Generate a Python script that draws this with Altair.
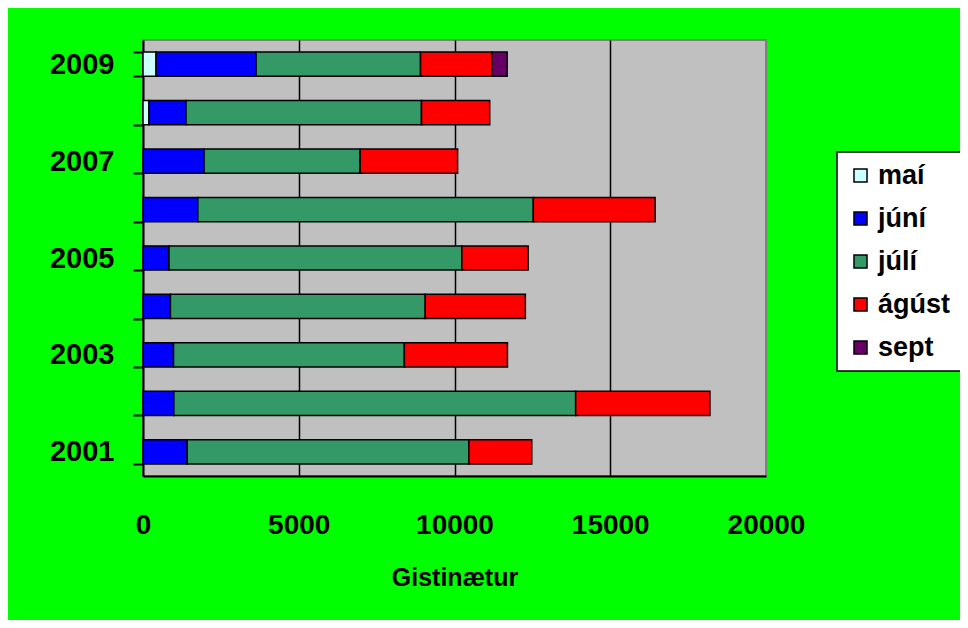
import altair as alt
import pandas as pd

years = ["2001", "2002", "2003", "2004", "2005", "2006", "2007", "2008", "2009"]
months = ["maí", "júní", "júlí", "ágúst", "sept"]
mai = [0, 0, 0, 0, 0, 0, 0, 190, 420]
juni = [1420, 990, 980, 880, 835, 1760, 1960, 1190, 3210]
juli = [9040, 12900, 7410, 8180, 9400, 10770, 5010, 7560, 5280]
agust = [2020, 4310, 3310, 3215, 2130, 3910, 3130, 2190, 2290]
sept = [0, 0, 0, 0, 0, 0, 0, 0, 490]
colors = ["#CCFFFF", "#0000FF", "#339966", "#FF0000", "#660066"]
x_ticks = [0, 5000, 10000, 15000, 20000]

series = [mai, juni, juli, agust, sept]
rows = []
for i, y in enumerate(years):
    for j, m in enumerate(months):
        v = series[j][i]
        if v > 0:
            rows.append({"year": y, "month": m, "order": j, "value": v})
df = pd.DataFrame(rows)

FONT = "Liberation Sans"

chart = alt.Chart(df).mark_bar(stroke="black", strokeWidth=1.5).encode(
    x=alt.X(
        "value:Q",
        stack="zero",
        scale=alt.Scale(domain=[0, 20000], nice=False),
        axis=alt.Axis(
            title="Gistinætur",
            values=x_ticks,
            format="d",
            labelFlush=False,
            ticks=False,
            domainColor="black",
            domainWidth=2,
            gridColor={"condition": {"test": "datum.value === 0 || datum.value === 20000",
                                     "value": "#808080"}, "value": "black"},
            gridWidth=1.5,
            gridOpacity=1,
            labelFont=FONT,
            labelFontSize=28,
            labelFontWeight="bold",
            labelColor="black",
            labelPadding=35,
            titleFont=FONT,
            titleFontSize=25,
            titleFontWeight="bold",
            titleColor="black",
            titlePadding=26,
        ),
    ),
    y=alt.Y(
        "year:N",
        sort="descending",
        scale=alt.Scale(paddingInner=0.5, paddingOuter=0.25),
        axis=alt.Axis(
            title=None,
            tickBand="extent",
            grid=False,
            labelExpr="toNumber(datum.value) % 2 == 1 ? datum.label : ''",
            domainColor="black",
            domainWidth=2,
            tickColor="black",
            tickWidth=2,
            tickSize=10,
            labelFont=FONT,
            labelFontSize=29,
            labelFontWeight="bold",
            labelColor="black",
            labelPadding=19,
        ),
    ),
    color=alt.Color(
        "month:N",
        scale=alt.Scale(domain=months, range=colors),
        legend=alt.Legend(
            title=None,
            orient="none",
            legendX=694,
            legendY=112,
            fillColor="white",
            strokeColor="black",
            padding=10,
            rowPadding=15,
            symbolType="square",
            symbolSize=170,
            symbolStrokeColor="black",
            symbolStrokeWidth=1.5,
            symbolOpacity=1,
            labelFont=FONT,
            labelFontSize=27,
            labelFontWeight="bold",
            labelColor="black",
            labelOffset=4,
        ),
    ),
    order=alt.Order("order:Q"),
).properties(
    width=623,
    height=436,
    background="#00FF00",
    padding={"left": 135, "top": 32, "right": 194, "bottom": 144},
    autosize=alt.AutoSizeParams(type="none"),
).configure_view(
    fill="#C0C0C0",
    stroke="#808080",
    strokeWidth=2,
).configure_legend(
    strokeWidth=1.5,
    cornerRadius=0,
)

chart.save("out.html", embed_options={"renderer": "svg", "actions": False})
